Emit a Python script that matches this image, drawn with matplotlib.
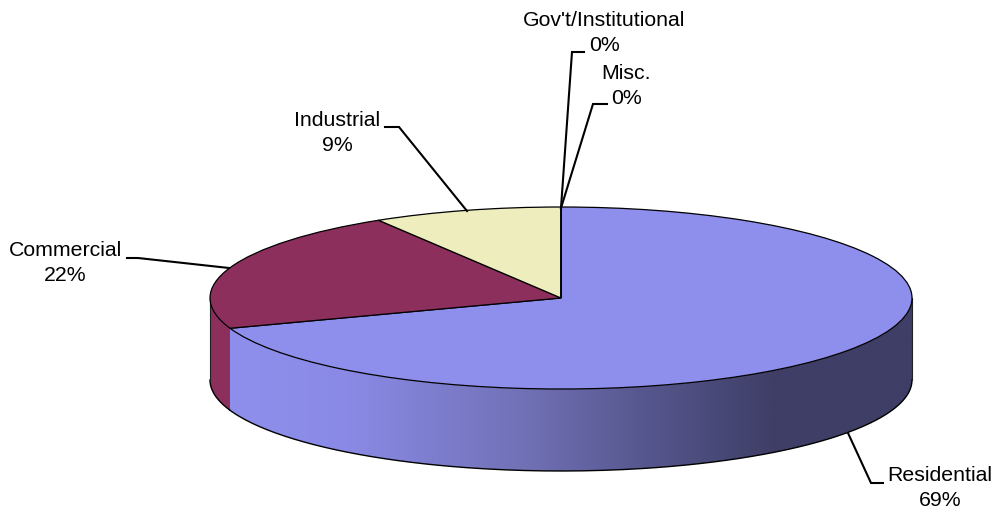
import numpy as np
import matplotlib
matplotlib.use("Agg")
import matplotlib.pyplot as plt
from matplotlib.colors import LinearSegmentedColormap
from matplotlib.patches import PathPatch
from matplotlib.path import Path
from matplotlib.transforms import Affine2D

categories = ["Residential", "Commercial", "Industrial", "Gov't/Institutional", "Misc."]
shares = [69.6, 21.7, 8.7, 0.0, 0.0]
share_labels = ["69%", "22%", "9%", "0%", "0%"]
top_colors = ["#8E8EEC", "#8C2F5C", "#EDEDBE", "#6699CC", "#CCCCCC"]

plt.rcParams["font.family"] = ["Liberation Sans", "DejaVu Sans"]
W, H = 996, 512
fig = plt.figure(figsize=(W / 100, H / 100), dpi=100)
ax = fig.add_axes([0, 0, 1, 1])

CX, CY, RX, RY, DEPTH = 561, 298, 351, 91, 82
d = DEPTH / RY

ax.pie(shares, colors=top_colors, startangle=90, counterclock=False, radius=1,
       wedgeprops=dict(edgecolor="black", linewidth=0.9, zorder=5))
ax.set_aspect("auto")
ax.set_xlim(-CX / RX, (W - CX) / RX)
ax.set_ylim(-(H - CY) / RY, CY / RY)
ax.axis("off")

# side wall of the disc, derived from the shares
total = sum(shares)
edges = 90 - np.cumsum([0] + shares) / total * 360


def wall_path(a_hi, a_lo):
    t = np.radians(np.linspace(a_hi, a_lo, 200))
    xs = np.r_[np.cos(t), np.cos(t[::-1])]
    ys = np.r_[np.sin(t), np.sin(t[::-1]) - d]
    return Path(np.c_[xs, ys])


grad = LinearSegmentedColormap.from_list(
    "wall", [(0, "#8E8EEC"), (0.17, "#8A8AE6"), (0.42, "#7272B8"),
             (0.62, "#55558C"), (0.80, "#3E3E66"), (1, "#3E3E66")])
xlim, ylim = ax.get_xlim(), ax.get_ylim()
for i in range(len(shares)):
    hi, lo = min(edges[i], 0), max(edges[i + 1], -180)
    if hi <= lo:
        continue
    p = wall_path(hi, lo)
    if i == 0:
        img = ax.imshow(np.linspace(0, 1, 512)[None, :], cmap=grad, aspect="auto",
                        extent=(np.cos(np.radians(lo)), 1, -1 - d, 0.0), zorder=2)
        patch = PathPatch(p, transform=ax.transData, facecolor="none", edgecolor="none")
        ax.add_patch(patch)
        img.set_clip_path(patch)
    else:
        ax.add_patch(PathPatch(p, facecolor=top_colors[i], edgecolor="none", zorder=2))
    # outline of the wall
    t = np.radians(np.linspace(hi, lo, 200))
    ax.plot(np.cos(t), np.sin(t) - d, color="black", lw=1.0, zorder=3)
ax.plot([1, 1], [0, -d], color="#222222", lw=0.8, zorder=3)
ax.plot([-1, -1], [0, -d], color="#222222", lw=0.8, zorder=3)
ax.set_xlim(xlim)
ax.set_ylim(ylim)

# labels and leaders, placed in pixel coordinates
px = Affine2D().scale(1, -1).translate(0, H)
label_pos = [(940, 488), (65, 263), (337, 133), (604, 33), (626, 86)]
leaders = [
    [(848, 433), (871, 483), (883, 483)],
    [(229, 268), (138, 258), (127, 258)],
    [(467, 211), (399, 127), (385, 127)],
    [(561, 208), (572, 52), (584, 52)],
    [(561, 208), (593, 104), (607, 104)],
]
for name, val, (x, y), pts in zip(categories, share_labels, label_pos, leaders):
    ax.text(x, y, f"{name}\n{val}", transform=px, ha="center", va="center",
            fontsize=15.3, color="black", linespacing=1.42, zorder=7, clip_on=False)
    a = np.array(pts)
    ax.plot(a[:, 0], a[:, 1], transform=px, color="black", lw=1.5, zorder=6,
            clip_on=False, solid_joinstyle="miter")

fig.savefig("out.png", dpi=100, facecolor="white")
